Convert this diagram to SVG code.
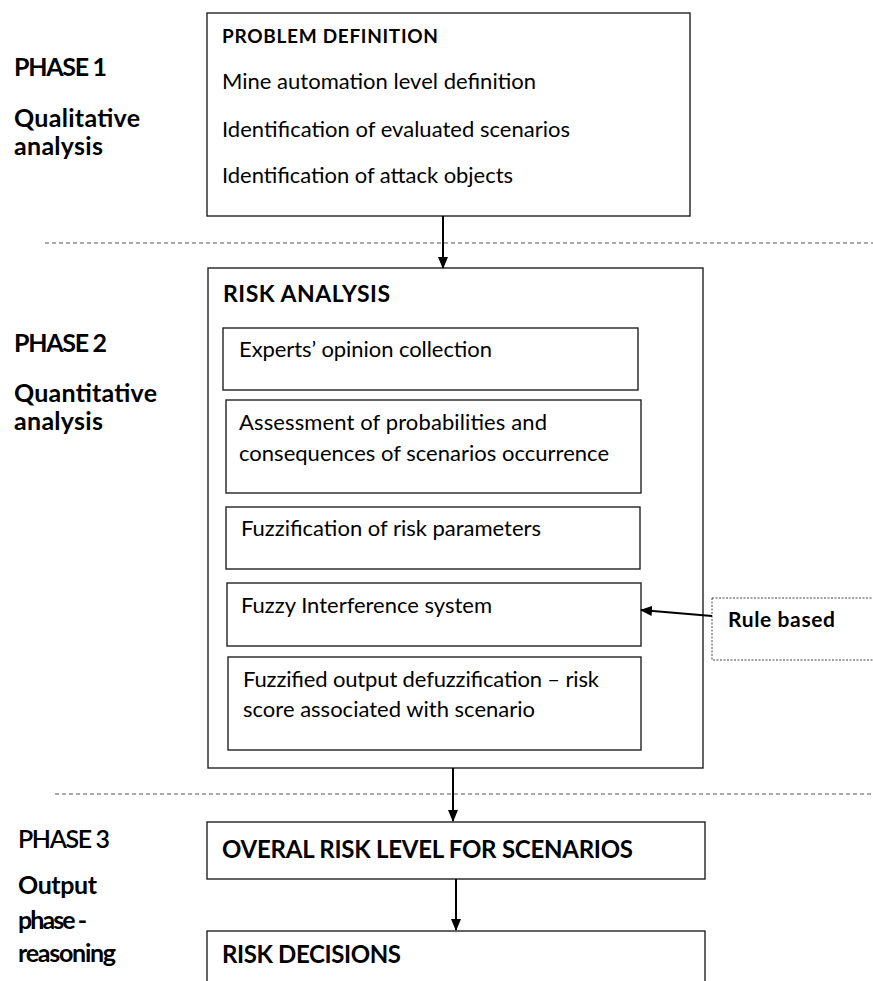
<svg xmlns="http://www.w3.org/2000/svg" width="873" height="981" viewBox="0 0 873 981">
<defs>
<marker id="ah" markerWidth="12" markerHeight="12" refX="11" refY="5" orient="auto" markerUnits="userSpaceOnUse" viewBox="0 0 12 10">
<path d="M0,0 L12,5 L0,10 Z" fill="#000"/>
</marker>
</defs>
<style>
.box{fill:#fff;stroke:#222;stroke-width:1.4}
.rule{fill:#fff;stroke:#444;stroke-width:1;stroke-dasharray:2 1.5}
.sep{stroke:#555;stroke-width:1;stroke-dasharray:4 3;fill:none}
.conn{stroke:#000;stroke-width:2;fill:none;marker-end:url(#ah)}
text{font-family:Lato,"Open Sans","Liberation Sans",sans-serif;fill:#000}
.t{font-size:22px}
.h{font-size:19px;font-weight:bold}
.hb{font-size:23px;font-weight:bold}
.rb{font-size:21px;font-weight:bold}
.ph{font-size:25px;font-weight:bold}
.phn{font-size:25px;font-weight:600}
.big{font-size:24px;font-weight:bold}
</style>
<rect width="873" height="981" fill="#fff"/>
<g id="separators">
<line class="sep" x1="45" y1="243" x2="873" y2="243"/>
<line class="sep" x1="55" y1="794" x2="873" y2="794"/>
</g>
<g id="phase-labels">
<text class="ph" x="14" y="76" textLength="93">PHASE 1</text>
<text class="ph" x="14" y="127" textLength="126">Qualitative</text>
<text class="ph" x="14" y="155" textLength="89">analysis</text>
<text class="ph" x="14" y="352" textLength="93">PHASE 2</text>
<text class="ph" x="14" y="402" textLength="143">Quantitative</text>
<text class="ph" x="14" y="430" textLength="89">analysis</text>
<text class="phn" x="18" y="848" textLength="92">PHASE 3</text>
<text class="ph" x="18" y="894" textLength="79">Output</text>
<text class="ph" x="18" y="929" textLength="69">phase -</text>
<text class="ph" x="18" y="962" textLength="98">reasoning</text>
</g>
<g id="problem-definition">
<rect class="box" x="207" y="13" width="483" height="203"/>
<text class="h" x="222" y="43" textLength="216">PROBLEM DEFINITION</text>
<text class="t" x="222" y="89" textLength="314">Mine automation level definition</text>
<text class="t" x="222" y="137" textLength="348">Identification of evaluated scenarios</text>
<text class="t" x="222" y="183" textLength="291">Identification of attack objects</text>
</g>
<g id="risk-analysis">
<rect class="box" x="208" y="268" width="495" height="500"/>
<text class="hb" x="223" y="302" textLength="167">RISK ANALYSIS</text>
</g>
<g id="experts-opinion">
<rect class="box" x="223" y="328" width="415" height="62"/>
<text class="t" x="239" y="357" textLength="253">Experts’ opinion collection</text>
</g>
<g id="assessment">
<rect class="box" x="226" y="400" width="415" height="93"/>
<text class="t" x="239" y="430" textLength="308">Assessment of probabilities and</text>
<text class="t" x="239" y="461" textLength="370">consequences of scenarios occurrence</text>
</g>
<g id="fuzzification">
<rect class="box" x="226" y="507" width="414" height="62"/>
<text class="t" x="241" y="536" textLength="300">Fuzzification of risk parameters</text>
</g>
<g id="fuzzy-inference">
<rect class="box" x="227" y="583" width="414" height="63"/>
<text class="t" x="241" y="613" textLength="251">Fuzzy Interference system</text>
</g>
<g id="defuzzification">
<rect class="box" x="228" y="657" width="413" height="93"/>
<text class="t" x="243" y="687" textLength="356">Fuzzified output defuzzification – risk</text>
<text class="t" x="243" y="717" textLength="292">score associated with scenario</text>
</g>
<g id="rule-based">
<rect class="rule" x="712" y="598" width="170" height="62"/>
<text class="rb" x="728" y="627" textLength="107">Rule based</text>
</g>
<g id="overall-risk">
<rect class="box" x="207" y="822" width="498" height="57"/>
<text class="big" x="222" y="858" textLength="411">OVERAL RISK LEVEL FOR SCENARIOS</text>
</g>
<g id="risk-decisions">
<rect class="box" x="207" y="931" width="498" height="70"/>
<text class="big" x="222" y="963" textLength="179">RISK DECISIONS</text>
</g>
<g id="connectors">
<line class="conn" x1="443" y1="216" x2="443" y2="268"/>
<line class="conn" x1="712" y1="616" x2="641" y2="610"/>
<line class="conn" x1="453" y1="768" x2="453" y2="821"/>
<line class="conn" x1="456" y1="879" x2="456" y2="930"/>
</g>
</svg>
